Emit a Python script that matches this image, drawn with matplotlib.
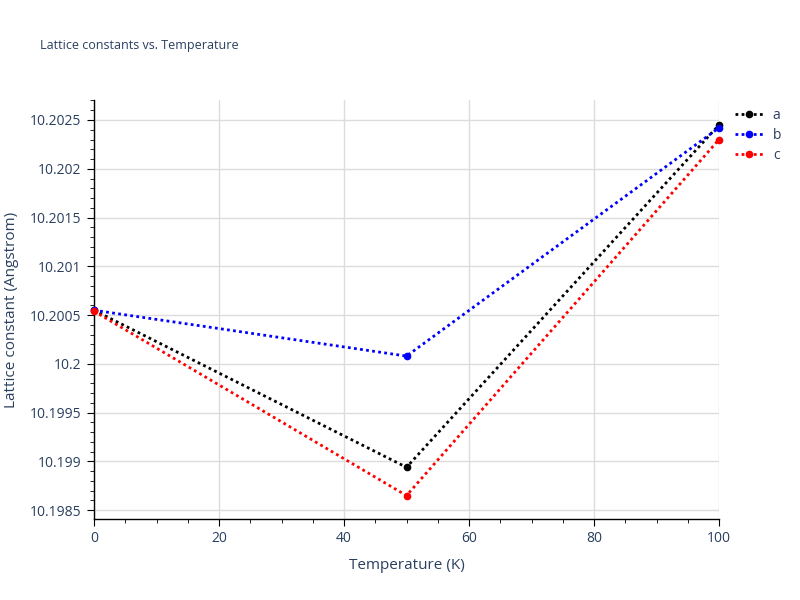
import matplotlib
matplotlib.use("Agg")
import matplotlib.pyplot as plt
from matplotlib.ticker import MultipleLocator, FuncFormatter

temperature = [0, 50, 100]
lat_a = [10.20055, 10.19894, 10.20245]
lat_b = [10.20055, 10.20008, 10.20242]
lat_c = [10.20054, 10.19865, 10.2023]
series = [("a", lat_a, "black"), ("b", lat_b, "blue"), ("c", lat_c, "red")]

FONT_C = "#2a3f5f"
plt.rcParams["font.family"] = ["Open Sans", "DejaVu Sans"]

fig = plt.figure(figsize=(8, 6), dpi=100)
ax = fig.add_axes([94 / 800, 81 / 600, 625 / 800, 419 / 600])

for name, vals, col in series:
    ax.plot(temperature, vals, ls=(0, (1, 1.2)), lw=2, color=col,
            marker="o", ms=4.5, label=name, clip_on=False, zorder=3)

ax.set_xlim(0, 100)
ax.set_ylim(10.19841, 10.202705)
ax.xaxis.set_major_locator(MultipleLocator(20))
ax.xaxis.set_minor_locator(MultipleLocator(5))
ax.yaxis.set_major_locator(MultipleLocator(0.0005))
ax.yaxis.set_minor_locator(MultipleLocator(0.0001))
ax.yaxis.set_major_formatter(FuncFormatter(lambda v, p: f"{v:.4f}".rstrip("0").rstrip(".")))

ax.grid(True, which="major", color="#dcdcdc", lw=1)
ax.set_axisbelow(True)
for s in ["top", "right"]:
    ax.spines[s].set_visible(False)
for s in ["left", "bottom"]:
    ax.spines[s].set_color("black")
    ax.spines[s].set_linewidth(1)
ax.tick_params(which="major", direction="out", length=5, color="black",
               labelsize=10, labelcolor=FONT_C, pad=4)
ax.tick_params(which="minor", direction="out", length=3, color="black")

ax.set_xlabel("Temperature (K)", fontsize=11, color=FONT_C, labelpad=8)
ax.set_ylabel("Lattice constant (Angstrom)", fontsize=11, color=FONT_C, labelpad=8)
fig.text(40 / 800, 1 - 46 / 600, "Lattice constants vs. Temperature",
         fontsize=9, color=FONT_C, va="center")

leg = ax.legend(loc="upper left", bbox_to_anchor=(1.006, 1.01), frameon=False,
                fontsize=10, handlelength=2.0, handletextpad=0.7,
                labelspacing=0.35)
for t in leg.get_texts():
    t.set_color(FONT_C)

fig.savefig("out.png", dpi=100)
